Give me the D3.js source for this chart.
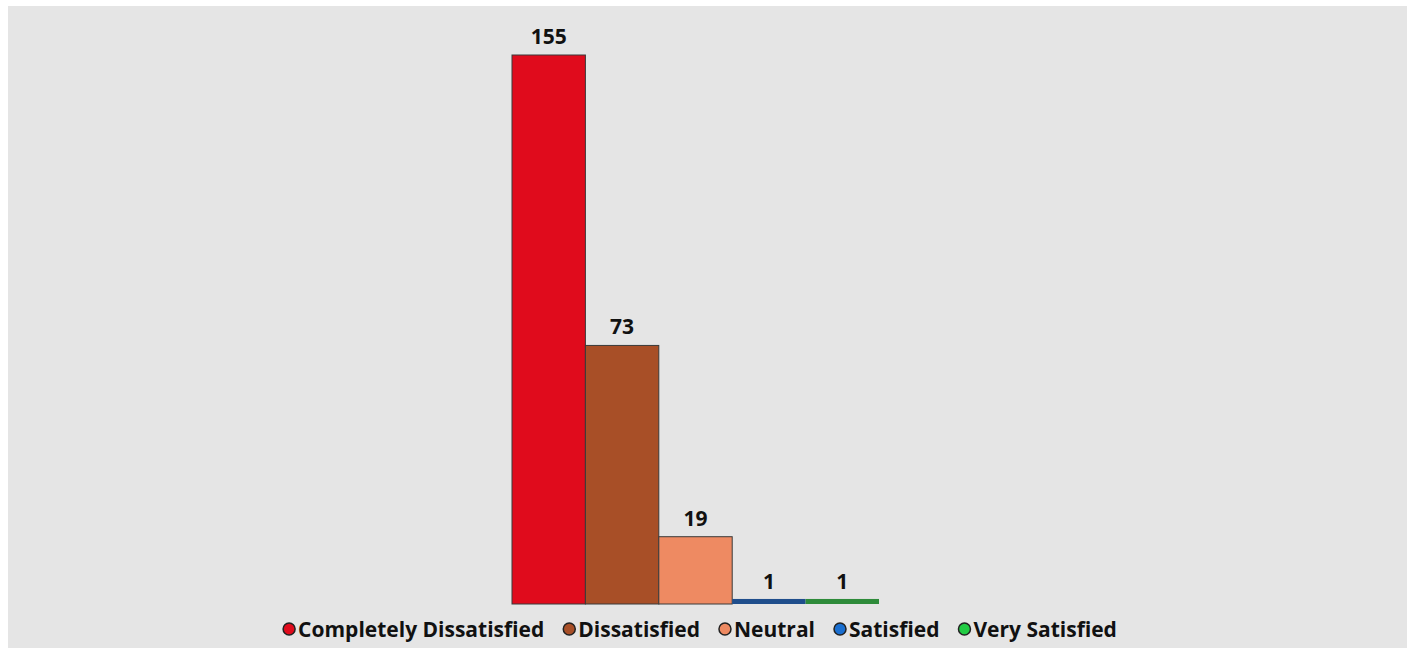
<!DOCTYPE html>
<html><head><meta charset="utf-8">
<script src="https://cdn.jsdelivr.net/npm/d3@7"></script>
<style>
html,body{margin:0;padding:0;background:#fff;}
svg{display:block;}
text{font-family:"Open Sans","Segoe UI",sans-serif;font-weight:700;}
</style></head>
<body>
<svg id="c" width="1414" height="649"></svg>
<script>
const categories = ["Completely Dissatisfied","Dissatisfied","Neutral","Satisfied","Very Satisfied"];
const values = [155, 73, 19, 1, 1];
const barColors = ["#E00B1C","#A84F27","#EE8A62","#1F4E8C","#2E8B3A"];
const legendColors = ["#E00B1C","#A84F27","#EE8A62","#1A6FD0","#22CC44"];

const svg = d3.select("#c");
svg.append("rect").attr("x",8).attr("y",6).attr("width",1399).attr("height",642).attr("fill","#E5E5E5");

const x = d3.scaleBand().domain(categories).range([512, 879]).padding(0);
const y = d3.scaleLinear().domain([0, 155]).range([604, 55]);

const bars = svg.append("g");
bars.selectAll("rect").data(categories).join("rect")
  .attr("x", d => x(d))
  .attr("width", x.bandwidth())
  .attr("y", (d,i) => y(values[i]) - (values[i] < 3 ? 1.5 : 0))
  .attr("height", (d,i) => y(0) - y(values[i]) + (values[i] < 3 ? 1.5 : 0))
  .attr("fill", (d,i) => barColors[i])
  .attr("stroke", (d,i) => values[i] < 3 ? "none" : "#3a3a3a")
  .attr("stroke-width", 1);

svg.append("g").selectAll("text").data(categories).join("text")
  .attr("x", d => x(d) + x.bandwidth()/2)
  .attr("y", (d,i) => y(values[i]) - 11)
  .attr("text-anchor","middle")
  .attr("font-size", 21)
  .attr("fill","#111")
  .text((d,i) => values[i]);

// legend
const lg = svg.append("g");
const items = lg.selectAll("g").data(categories).join("g");
items.append("circle").attr("r",6).attr("cy",0).attr("cx",0)
  .attr("fill",(d,i)=>legendColors[i]).attr("stroke","#222").attr("stroke-width",1.5);
items.append("text").attr("x",9).attr("y",7.5).attr("font-size",21).attr("fill","#111").text(d=>d);
let cx = 0;
const pos = [];
items.each(function(d){
  const w = d3.select(this).select("text").node().getComputedTextLength();
  pos.push(cx);
  cx += 9 + w + 25;
});
const total = cx - 25 + 6;
const start = 700 - total/2 + 6;
items.attr("transform",(d,i)=>`translate(${start+pos[i]},629)`);
</script>
</body></html>
